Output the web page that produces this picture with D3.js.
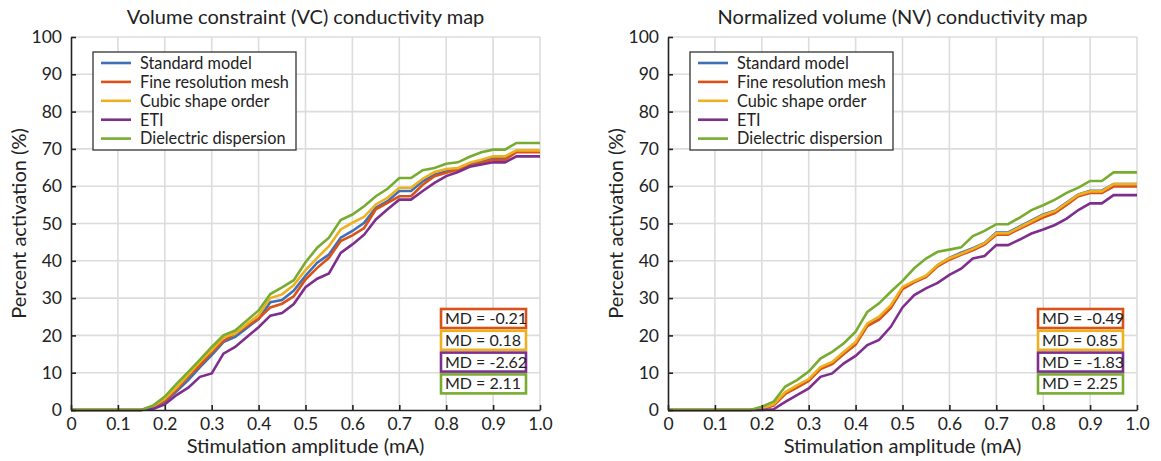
<!DOCTYPE html>
<html><head><meta charset="utf-8">
<script src="https://cdn.jsdelivr.net/npm/d3@7"></script>
<style>body{margin:0;background:#fff}svg{display:block}text{font-family:Lato,sans-serif;fill:#222}</style>
</head><body><svg id="c" width="1161" height="461"></svg>
<script>
const xValues = [0,0.025,0.05,0.075,0.1,0.125,0.15,0.175,0.2,0.225,0.25,0.275,0.3,0.325,0.35,0.375,0.4,0.425,0.45,0.475,0.5,0.525,0.55,0.575,0.6,0.625,0.65,0.675,0.7,0.725,0.75,0.775,0.8,0.825,0.85,0.875,0.9,0.925,0.95,0.975,1.0];
const seriesNames = ["Standard model","Fine resolution mesh","Cubic shape order","ETI","Dielectric dispersion"];
const seriesColors = ["#3f6fb6","#d95319","#edb120","#7e2f8e","#77ac30"];
const xTicks = [0,0.1,0.2,0.3,0.4,0.5,0.6,0.7,0.8,0.9,1.0];
const xTickLabels = ["0","0.1","0.2","0.3","0.4","0.5","0.6","0.7","0.8","0.9","1.0"];
const yTicks = [0,10,20,30,40,50,60,70,80,90,100];

// Left: Volume constraint (VC)
const vcStandard = [0,0,0,0,0,0,0,0.8,2.2,5,8,11.5,14.7,18.2,19.6,22,24.4,28.9,29.5,32,36,39.5,41.7,46.2,48,50.2,54.2,56,58.7,58.7,61.3,63.1,64,64.6,65.8,66.7,67.6,67.6,69.4,69.4,69.4];
const vcFine = [0,0,0,0,0,0,0,0.8,2.5,5.5,9,12,15.5,18.5,20.5,22.5,24.5,27.5,28.5,30.5,35,38.1,40.8,45.3,46.8,48.8,53.8,55.5,57.3,57.3,60.4,62.7,63.6,64.5,65.4,66.3,67.1,67.1,69.1,69.1,69.1];
const vcCubic = [0,0,0,0,0,0,0,1,3,6,9.5,13,16,19.5,20.5,23,25.5,30,31,33.5,37.5,40.8,43.9,48.4,50.2,51.8,55.1,56.9,59.6,59.6,62,63.8,64.6,64.9,66.3,67.1,68,68,69.6,69.6,69.6];
const vcETI = [0,0,0,0,0,0,0,0.3,1.5,4,6,8.9,9.8,15.1,16.9,19.6,22.2,25.3,26,28.4,32.9,35.2,36.6,42.1,44.4,47,51.1,53.8,56.4,56.4,58.7,60.9,62.7,63.8,65.2,65.8,66.4,66.4,68,68,68];
const vcDielectric = [0,0,0,0,0,0,0,1.2,3.6,7,10.2,13.5,16.9,20,21.3,24,26.7,31.1,32.9,34.8,39.6,43.5,46.2,50.9,52.4,54.6,57.3,59.3,62.2,62.2,64.3,64.9,66,66.4,67.9,69.1,69.8,69.8,71.6,71.6,71.6];
const vcMD = ["MD = -0.21","MD = 0.18","MD = -2.62","MD = 2.11"];

// Right: Normalized volume (NV)
const nvStandard = [0,0,0,0,0,0,0,0,0.3,1.3,4.5,6.3,8,11.2,12.5,15.2,17.9,22.8,24.6,27.7,32.6,34.4,35.9,38.8,40.8,42.2,43.4,44.8,47.6,47.6,49.2,50.8,52.4,53.4,55.6,57.8,58.8,58.8,60.6,60.6,60.6];
const nvFine = [0,0,0,0,0,0,0,0,0.3,1.2,4.3,6,7.8,11,12.3,15,17.5,22.5,24.2,27.3,32.4,34.2,35.6,38.5,40.3,41.6,42.8,44.3,47,47,48.6,50.1,51.6,52.8,55,57.3,58.2,58.2,59.9,59.9,59.9];
const nvCubic = [0,0,0,0,0,0,0,0,0.4,1.5,4.8,6.6,8.3,11.5,12.9,15.6,18.2,23.2,25,28.1,33,34.6,36,38.9,40.7,41.9,43.2,44.7,47.4,47.4,49,50.6,52.2,53.3,55.5,57.7,58.6,58.6,60.6,60.6,60.6];
const nvETI = [0,0,0,0,0,0,0,0,0,0.2,2.2,4,5.8,8.9,9.8,12.5,14.5,17.4,18.8,22.3,27.5,30.8,32.6,34.1,36.2,37.9,40.6,41.3,44.2,44.2,45.7,47.3,48.4,49.6,51.3,53.6,55.4,55.4,57.6,57.6,57.6];
const nvDielectric = [0,0,0,0,0,0,0,0,0.9,2.2,6.3,8,10.3,13.8,15.6,17.9,21,26.3,28.6,31.7,34.6,38,40.6,42.4,43,43.6,46.6,48,49.8,49.8,51.6,53.6,54.9,56.4,58.2,59.6,61.4,61.4,63.7,63.7,63.7];
const nvMD = ["MD = -0.49","MD = 0.85","MD = -1.83","MD = 2.25"];

const svg = d3.select("#c");

function panel(left, title, seriesList, mdTexts){
  const W = 469, H = 373, top = 37;
  const g = svg.append("g").attr("transform", `translate(${left},${top})`);
  const x = d3.scaleLinear().domain([0,1]).range([0,W]);
  const y = d3.scaleLinear().domain([0,100]).range([H,0]);
  // grid
  g.append("g").selectAll("line.v").data(xTicks.slice(1)).join("line")
    .attr("x1", d=>x(d)).attr("x2", d=>x(d)).attr("y1",0).attr("y2",H)
    .attr("stroke","#dcdcdc").attr("stroke-width",1.6);
  g.append("g").selectAll("line.h").data(yTicks.slice(1)).join("line")
    .attr("x1",0).attr("x2",W).attr("y1", d=>y(d)).attr("y2", d=>y(d))
    .attr("stroke","#dcdcdc").attr("stroke-width",1.6);
  // lines
  const line = d3.line().x((d,i)=>x(xValues[i])).y(d=>y(d));
  seriesList.forEach((s,k)=>{
    g.append("path").datum(s).attr("d", line).attr("fill","none")
      .attr("stroke", seriesColors[k]).attr("stroke-width",2.6).attr("stroke-linejoin","miter");
  });
  // axes
  const xa = g.append("g").attr("transform",`translate(0,${H})`)
    .call(d3.axisBottom(x).tickValues(xTicks).tickFormat((d,i)=>xTickLabels[i]).tickSizeInner(-5).tickSizeOuter(0).tickPadding(8));
  const ya = g.append("g")
    .call(d3.axisLeft(y).tickValues(yTicks).tickSizeInner(-5).tickSizeOuter(0).tickPadding(9));
  [xa,ya].forEach(a=>{
    a.select(".domain").attr("stroke","#222").attr("stroke-width",1.6);
    a.selectAll(".tick line").attr("stroke","#222").attr("stroke-width",1.6);
    a.selectAll(".tick text").attr("font-size",17.5).attr("font-family","Lato,sans-serif").attr("fill","#222");
  });
  // titles
  svg.append("text").attr("x", left + W/2).attr("y", 24).attr("text-anchor","middle")
    .attr("font-size",20).text(title);
  svg.append("text").attr("x", left + W/2).attr("y", 453).attr("text-anchor","middle")
    .attr("font-size",20).text("Stimulation amplitude (mA)");
  svg.append("text").attr("transform",`translate(${left-45},${top+H/2}) rotate(-90)`).attr("text-anchor","middle")
    .attr("font-size",20).text("Percent activation (%)");
  // legend
  const lg = g.append("g").attr("transform","translate(22,15)");
  lg.append("rect").attr("x",0).attr("y",0).attr("width",203).attr("height",98)
    .attr("fill","#fff").attr("stroke","#333").attr("stroke-width",1.3);
  seriesNames.forEach((n,k)=>{
    const yy = 11 + k*18.9;
    lg.append("line").attr("x1",8).attr("x2",38).attr("y1",yy).attr("y2",yy)
      .attr("stroke",seriesColors[k]).attr("stroke-width",2.6);
    lg.append("text").attr("x",47).attr("y",yy+5.8).attr("font-size",16.3).text(n);
  });
  // MD boxes
  mdTexts.forEach((t,k)=>{
    const bx = W-99, by = 272 + k*21.8;
    g.append("rect").attr("x",bx).attr("y",by).attr("width",85).attr("height",19)
      .attr("fill","#fff").attr("stroke",seriesColors[k+1]).attr("stroke-width",2.6);
    g.append("text").attr("x",bx+4).attr("y",by+15).attr("font-size",16).text(t);
  });
}

panel(71, "Volume constraint (VC) conductivity map", [vcStandard,vcFine,vcCubic,vcETI,vcDielectric], vcMD);
panel(668, "Normalized volume (NV) conductivity map", [nvStandard,nvFine,nvCubic,nvETI,nvDielectric], nvMD);
</script></body></html>
